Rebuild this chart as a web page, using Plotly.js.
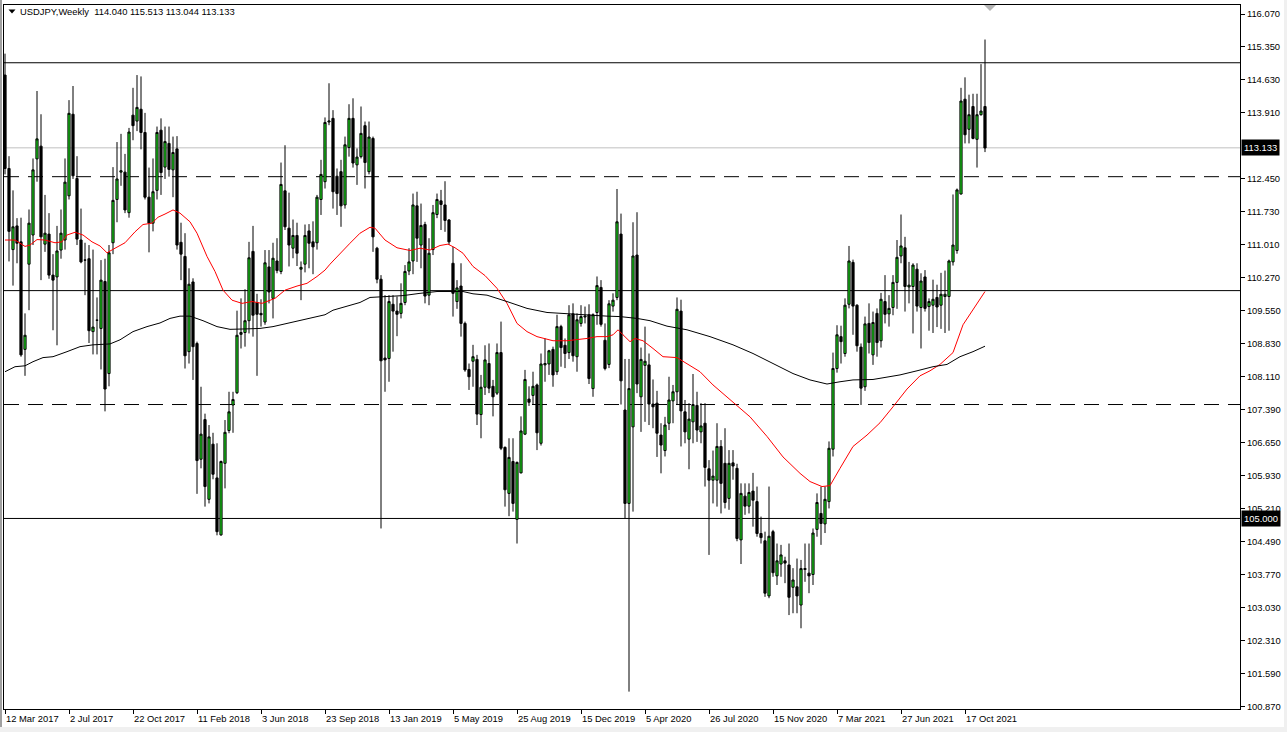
<!DOCTYPE html>
<html>
<head>
<meta charset="utf-8">
<script src="https://cdn.plot.ly/plotly-3.0.1.min.js"></script>
<style>
html,body{margin:0;padding:0;background:#fff;}
#chart{width:1287px;height:732px;}
</style>
</head>
<body>
<div id="chart"></div>
<script>
// ---------- DATA (weekly USDJPY candles, week 0 = 12 Mar 2017) ----------
const symbolTitle = "USDJPY,Weekly";
const lastBar = ["114.040", "115.513", "113.044", "113.133"];

const open = [
114.73,112.68,110.90,111.42,111.07,108.71,110.58,111.22,112.89,113.17,
111.02,111.24,110.34,110.30,110.89,111.11,112.08,113.87,112.46,111.11,
110.67,110.70,109.10,109.35,109.17,110.20,108.18,111.05,112.00,112.60,
112.60,111.71,113.85,113.72,113.98,113.47,112.05,111.48,112.20,113.52,
112.71,113.23,112.65,113.11,111.06,110.75,108.66,110.19,108.84,106.30,
107.17,105.42,106.63,105.89,104.64,106.21,106.93,107.49,107.76,109.04,
109.08,109.34,110.86,109.74,109.50,109.31,110.52,109.83,110.65,110.42,
112.19,111.37,110.93,111.21,110.47,110.58,111.31,111.07,111.05,112.00,
112.39,113.70,113.78,112.51,112.61,111.88,113.14,113.78,112.76,112.94,
113.62,112.61,113.34,110.93,110.25,108.52,108.51,109.70,109.55,109.50,
109.74,110.43,110.65,111.86,111.00,111.45,109.90,110.90,111.67,111.97,
111.88,111.55,110.60,109.76,110.10,109.28,108.27,108.45,108.49,107.28,
107.88,108.40,107.90,107.75,108.64,106.56,105.55,106.25,104.98,106.00,
106.85,107.62,107.70,107.93,106.65,108.37,108.39,108.71,108.22,109.21,
108.80,108.64,109.49,108.55,109.28,109.42,109.47,107.85,109.52,110.07,
108.91,108.38,109.66,109.85,111.24,107.38,105.33,107.01,110.78,107.67,
108.36,108.37,107.51,107.53,106.83,106.49,107.09,107.58,107.78,109.55,
107.34,106.74,107.12,107.48,106.90,107.09,106.09,105.84,105.84,106.58,
106.21,105.44,106.22,106.10,104.53,105.49,105.27,105.60,105.37,104.67,
104.51,103.30,104.71,103.74,104.00,104.07,103.98,103.49,103.50,103.10,
103.88,103.80,103.77,104.76,105.11,104.88,105.37,106.52,108.29,108.99,
108.62,109.70,110.62,109.68,108.76,107.89,109.28,108.59,109.50,108.90,
109.76,109.49,109.63,110.18,110.76,110.94,110.08,110.09,110.47,109.63,
110.30,109.65,109.68,109.85,109.68,109.87,109.87,110.63,110.88,112.12,
114.20,113.54,114.04,113.32,113.86,114.04
];
const high = [
115.20,112.95,112.20,111.59,111.60,109.50,111.78,112.90,114.38,113.87,
112.10,111.70,110.80,111.42,111.78,112.90,114.18,114.49,112.95,111.80,
111.05,111.00,110.90,109.85,110.67,110.70,111.00,112.71,113.26,113.44,
113.00,113.57,114.45,114.73,114.70,113.90,112.70,112.90,113.60,113.78,
113.60,113.60,113.38,113.39,111.49,111.26,110.49,110.27,108.88,107.89,
107.30,107.05,106.88,106.65,106.27,107.16,107.78,107.78,109.56,109.83,
110.03,111.07,111.42,109.93,109.81,110.89,110.89,111.05,111.15,112.81,
113.19,112.15,111.56,111.49,110.64,111.45,111.46,111.52,112.10,112.87,
113.80,114.55,113.96,112.68,112.87,113.38,114.09,114.22,113.12,114.04,
113.71,113.71,113.38,110.96,110.34,109.90,109.90,109.90,109.87,110.16,
110.56,110.93,112.13,112.17,111.91,111.51,111.15,111.88,112.13,112.21,
112.40,111.57,110.96,110.23,110.60,109.32,108.40,108.81,108.59,108.15,
108.80,108.84,108.04,108.84,109.32,106.58,106.76,106.76,106.25,107.24,
108.26,107.90,108.22,107.96,108.62,108.95,108.70,108.77,109.47,109.25,
108.95,109.68,109.72,109.50,109.68,109.65,109.70,109.50,110.31,110.23,
109.28,109.79,109.94,112.23,111.69,108.50,108.50,111.50,111.72,108.75,
109.21,108.62,108.05,107.80,107.09,107.23,108.11,107.93,109.85,109.80,
107.60,107.53,108.17,107.78,107.53,107.53,106.28,106.49,107.09,106.72,
106.98,106.50,106.50,106.20,105.77,105.77,105.77,106.00,105.70,105.04,
104.71,105.70,104.75,104.45,104.42,104.16,104.45,103.91,104.12,104.09,
104.45,104.45,104.78,105.55,105.70,105.70,106.69,108.64,109.24,109.23,
109.83,110.98,110.68,109.70,108.84,109.43,109.72,109.54,109.61,109.95,
110.34,109.90,110.34,111.11,111.67,111.18,110.63,110.60,110.60,110.38,
110.45,109.83,110.24,110.13,110.39,110.44,110.68,112.11,112.24,114.45,
114.68,114.30,114.32,114.32,114.97,115.51
];
const low = [
112.55,110.64,110.11,110.60,108.55,108.13,109.57,111.00,112.39,110.23,
110.85,110.26,109.13,108.80,110.70,110.90,112.00,112.45,111.00,110.60,
109.90,108.85,108.60,108.60,108.27,107.35,107.90,110.80,111.50,112.30,
111.70,111.60,113.30,113.50,113.10,112.00,110.84,111.30,112.00,112.10,
112.45,112.50,112.05,110.90,110.23,108.29,108.40,108.04,105.54,106.10,
105.26,105.33,105.86,104.63,104.62,105.66,106.87,106.88,107.73,108.73,
108.77,109.06,108.99,108.13,109.21,109.25,109.72,109.39,110.38,110.36,
111.33,110.53,110.71,110.54,109.79,110.40,110.49,110.36,110.90,111.66,
112.24,113.63,111.80,111.66,111.40,111.80,112.94,112.70,112.32,112.90,
112.24,112.55,110.85,110.16,104.78,107.78,108.00,108.66,109.00,109.39,
109.68,110.34,110.36,110.63,110.49,109.72,109.68,110.78,111.59,111.33,
111.29,111.00,109.43,109.60,108.99,108.22,107.82,107.89,107.05,106.76,
107.71,107.75,107.24,107.71,106.50,105.26,105.05,105.15,104.45,105.99,
106.83,107.47,107.50,106.50,106.60,108.00,108.15,107.89,108.15,108.33,
108.30,108.50,108.44,108.22,109.21,109.28,107.95,107.67,109.25,109.21,
108.25,108.30,109.54,109.79,107.50,105.00,101.20,105.15,107.75,106.90,
107.12,107.05,106.98,106.35,105.99,106.36,106.94,107.09,107.51,106.58,
106.65,106.08,106.65,106.68,106.65,105.70,104.20,105.33,105.26,105.11,
105.22,105.19,105.85,104.50,104.00,105.08,105.11,104.82,104.60,104.45,
103.28,103.25,103.72,103.54,103.72,103.58,102.88,102.92,102.92,102.59,
103.61,103.36,103.54,104.60,104.42,104.68,105.22,106.36,108.20,108.40,
108.55,109.61,109.03,108.66,107.49,107.80,108.62,108.37,108.55,108.75,
109.28,109.21,109.46,109.60,110.60,109.54,109.72,109.06,109.54,108.73,
109.54,109.12,109.07,109.20,109.16,109.07,109.12,110.55,110.81,112.11,
113.23,113.23,113.32,112.70,113.84,113.04
];
const close = [
112.68,111.30,111.40,111.04,108.59,109.02,111.48,112.65,113.33,111.18,
111.26,110.34,110.23,110.87,111.26,112.38,113.89,112.52,111.13,110.63,
110.67,109.12,109.20,109.35,110.23,107.84,110.83,111.98,112.45,112.63,
111.77,113.48,113.62,114.02,113.47,112.05,111.48,112.17,113.47,112.59,
113.27,112.66,113.03,111.00,110.80,108.57,110.14,108.77,106.27,106.85,
105.70,106.79,105.97,104.71,106.25,106.89,107.34,107.61,109.02,109.08,
109.34,110.72,109.46,109.48,109.47,110.61,109.97,110.71,110.44,112.33,
111.40,111.00,111.21,110.82,110.51,111.21,111.04,110.96,112.05,112.55,
113.69,113.72,112.17,112.13,111.86,113.20,113.78,112.80,112.93,113.45,
112.81,113.37,111.18,110.25,108.46,108.48,109.76,109.55,109.48,109.72,
110.42,110.63,111.88,111.15,111.43,109.88,110.82,111.71,112.00,111.89,
111.54,111.07,109.94,110.06,109.28,108.26,108.11,108.55,107.29,107.88,
108.48,107.86,107.67,108.64,106.54,105.63,106.34,105.33,106.23,106.92,
108.05,107.55,107.90,106.88,108.39,108.40,108.68,108.15,109.21,108.75,
108.62,109.47,108.57,109.36,109.43,109.44,108.07,109.47,110.11,109.26,
108.29,109.71,109.79,111.51,108.02,105.33,107.85,110.76,107.95,108.49,
108.45,107.51,107.45,106.87,106.61,107.05,107.60,107.78,109.59,107.36,
106.90,107.18,107.50,106.94,107.03,106.12,105.84,105.93,106.58,105.77,
105.35,106.21,106.15,104.56,105.55,105.27,105.57,105.40,104.67,104.58,
103.36,104.61,103.81,104.07,104.20,104.02,103.27,103.65,103.30,103.90,
103.90,103.74,104.68,105.35,104.89,105.42,106.54,108.29,109.03,108.88,
109.68,110.65,109.66,108.79,107.86,109.27,108.86,109.30,108.86,109.81,
109.48,109.61,110.18,110.73,110.98,110.09,110.12,110.56,109.66,110.21,
109.61,109.76,109.81,109.64,109.92,109.92,110.65,111.00,112.21,114.16,
113.42,113.86,113.34,113.86,113.94,113.13
];

// moving averages (week index, price)
const maRedWeek = [0,2.5,5,6.25,8,10,12.5,14.25,15.5,17.5,19.5,21.75,23.75,25.5,27.5,30,32.5,34.5,36.75,38.25,40,42,43.75,46.25,48,50.5,52.5,54.5,56.75,59.25,61.75,64.25,67.5,70,73,75.5,78,80,81.25,83.75,86.25,88.75,91.25,92.5,95,98,101.25,103.75,106.25,108.75,110.75,112.5,114.5,117,120,123,125.5,128,130.5,133,137,140.5,143,145.5,148,150.5,152,153.25,154.5,156.25,157.5,159.5,162,164.5,168,170.5,173.75,177,182,186.25,190.5,194.5,198.75,201.25,204.25,206.25,208.75,212,215.5,218.75,222,225.5,228.75,231.25,233.75,237,239.5,242.5,245];
const maRedValue = [111.11,111.11,110.97,111.0,111.12,111.11,111.05,111.07,111.22,111.28,111.22,111.07,110.98,110.83,110.93,111.05,111.29,111.45,111.48,111.61,111.68,111.77,111.7,111.51,111.26,110.75,110.42,110.01,109.79,109.72,109.76,109.72,109.83,110.01,110.1,110.16,110.31,110.45,110.58,110.82,111.04,111.26,111.39,111.37,111.11,110.94,110.88,110.93,110.89,110.99,111.02,110.94,110.82,110.53,110.33,110.05,109.72,109.28,109.1,108.99,108.9,108.9,108.92,108.95,108.99,108.99,109.03,109.14,109.03,108.88,108.95,108.9,108.73,108.55,108.53,108.4,108.22,107.93,107.56,107.23,106.8,106.35,105.99,105.81,105.7,105.72,106.1,106.58,106.83,107.1,107.45,107.84,108.13,108.24,108.38,108.64,109.25,109.64,109.98];
const maBlackWeek = [0,2.5,5,7,9.5,12,15.5,18.75,22,26.25,28.75,32,35.5,38.75,41.25,43.75,46.25,49.5,53,56.25,60.5,63.75,67,70.5,73.75,77,80,82,85.5,88.75,91.25,95.5,99.5,103.75,108,111.25,114.5,117,120.5,125.5,130.5,135.5,140.5,145.5,150.5,153.75,158,161.25,165.5,170.5,176.25,182,187,192,197,201.25,205.5,208.75,212,217,220.5,223.75,228,232,235.5,238.75,242,245];
const maBlackValue = [108.22,108.33,108.35,108.44,108.53,108.55,108.66,108.77,108.81,108.83,108.92,109.1,109.21,109.29,109.39,109.44,109.44,109.34,109.21,109.15,109.16,109.17,109.21,109.28,109.34,109.41,109.47,109.57,109.65,109.74,109.85,109.87,109.89,109.94,109.98,109.98,109.98,109.93,109.9,109.76,109.61,109.52,109.49,109.47,109.44,109.43,109.39,109.34,109.22,109.14,108.99,108.81,108.62,108.4,108.18,108.04,107.95,108.0,108.04,108.05,108.1,108.15,108.24,108.33,108.38,108.55,108.66,108.78];

// horizontal levels drawn on the chart
const solidLevels = [115.0, 110.0, 105.0];
const dashedLevels = [112.5, 107.5];
const bidLevel = 113.133;
const markedLevel = 105.000;

// axis labels
const dateLabelWeeks = [0,16,32,48,64,80,96,112,128,144,160,176,192,208,224,240];
const dateLabels = ["12 Mar 2017","2 Jul 2017","22 Oct 2017","11 Feb 2018","3 Jun 2018","23 Sep 2018","13 Jan 2019","5 May 2019","25 Aug 2019","15 Dec 2019","5 Apr 2020","26 Jul 2020","15 Nov 2020","7 Mar 2021","27 Jun 2021","17 Oct 2021"];
// price scale labels; slot = position on the evenly spaced 22-step scale (slot 4 sits under the bid box)
const priceLabelSlots = [0,1,2,3,5,6,7,8,9,10,11,12,13,14,15,16,17,18,19,20,21];
const priceLabels = ["116.070","115.350","114.630","113.910","112.450","111.730","111.010","110.270","109.550","108.830","108.110","107.390","106.650","105.930","105.210","104.490","103.770","103.030","102.310","101.590","100.870"];

// ---------- CHART ----------
if (!(open.length === high.length && high.length === low.length && low.length === close.length)) {
  throw new Error("length mismatch " + [open.length, high.length, low.length, close.length].join(","));
}
const weeks = open.map((_, i) => i);

const FONT = "'Liberation Sans', Arial, sans-serif";
const FS = 9.4;
const GREEN = "#1ee61e";

// y-axis tick positions: evenly spaced between the top and bottom scale labels
const yTop = 116.07, yBottom = 100.87, ySteps = 21;
const yTickVals = priceLabelSlots.map(k => yTop - k * (yTop - yBottom) / ySteps);

// plot-area pixel geometry helpers (for frame decorations only)
const W = 1287, H = 732, L = 4, R = 47, T = 5, B = 23;
const pw = W - L - R, ph = H - T - B;
const px = p => (p - L) / pw;          // pixel x -> paper x
const py = p => (H - B - p) / ph;      // pixel y -> paper y

const traces = [
  {
    type: "candlestick",
    x: weeks, open: open, high: high, low: low, close: close,
    increasing: {line: {color: "#000000", width: 1}, fillcolor: GREEN},
    decreasing: {line: {color: "#000000", width: 1}, fillcolor: "#000000"},
    whiskerwidth: 0,
    hoverinfo: "skip",
    showlegend: false
  },
  {
    type: "scatter", mode: "lines", x: maRedWeek, y: maRedValue,
    line: {color: "#ff0000", width: 1}, hoverinfo: "skip", showlegend: false
  },
  {
    type: "scatter", mode: "lines", x: maBlackWeek, y: maBlackValue,
    line: {color: "#000000", width: 1}, hoverinfo: "skip", showlegend: false
  }
];

const shapes = [];
solidLevels.forEach(v => shapes.push({type: "line", xref: "paper", x0: 0, x1: 1, yref: "y", y0: v, y1: v,
  line: {color: "#000000", width: 1}, layer: "below"}));
dashedLevels.forEach(v => shapes.push({type: "line", xref: "paper", x0: 0, x1: 1, yref: "y", y0: v, y1: v,
  line: {color: "#000000", width: 1, dash: "15px,9px"}, layer: "below"}));
shapes.push({type: "line", xref: "paper", x0: 0, x1: 1, yref: "y", y0: bidLevel, y1: bidLevel,
  line: {color: "#c0c0c0", width: 1}, layer: "below"});
// title triangle
shapes.push({type: "path", xref: "paper", yref: "paper",
  path: `M ${px(8.5)},${py(9.5)} L ${px(15.5)},${py(9.5)} L ${px(12)},${py(13.5)} Z`,
  fillcolor: "#000000", line: {width: 0}});
// chart-shift marker
shapes.push({type: "path", xref: "paper", yref: "paper",
  path: `M ${px(984)},${py(5)} L ${px(996)},${py(5)} L ${px(990)},${py(11)} Z`,
  fillcolor: "#b4b4b4", line: {width: 0}});
// window frame
shapes.push({type: "rect", xref: "paper", yref: "paper", x0: px(0), x1: px(2), y0: py(0), y1: py(732),
  fillcolor: "#a0a0a0", line: {width: 0}});
shapes.push({type: "rect", xref: "paper", yref: "paper", x0: px(0), x1: px(1287), y0: py(727), y1: py(732),
  fillcolor: "#f0f0f0", line: {width: 0}});
shapes.push({type: "rect", xref: "paper", yref: "paper", x0: px(1284), x1: px(1287), y0: py(0), y1: py(732),
  fillcolor: "#f0f0f0", line: {width: 0}});

const annotations = [];
annotations.push({xref: "paper", yref: "paper", x: px(18), y: py(12), xanchor: "left", yanchor: "middle",
  text: symbolTitle + "&nbsp; " + lastBar.join(" "), showarrow: false,
  font: {family: FONT, size: FS, color: "#000000"}});
dateLabels.forEach((t, i) => annotations.push({xref: "x", yref: "paper", x: dateLabelWeeks[i], y: 0,
  xanchor: "left", yanchor: "top", yshift: -2, xshift: -1, text: t, showarrow: false,
  font: {family: FONT, size: FS, color: "#000000"}}));
[bidLevel, markedLevel].forEach(v => annotations.push({xref: "paper", yref: "y", x: 1, y: v,
  xanchor: "left", yanchor: "middle", xshift: 1, text: v.toFixed(3), showarrow: false,
  bgcolor: "#000000", borderpad: 2, font: {family: FONT, size: FS, color: "#ffffff"}}));

const layout = {
  width: W, height: H,
  margin: {l: L, r: R, t: T, b: B, pad: 0},
  paper_bgcolor: "#ffffff", plot_bgcolor: "#ffffff",
  showlegend: false,
  boxgap: 0.22,
  xaxis: {
    type: "linear", range: [-0.25, 308.75], fixedrange: true,
    showgrid: false, zeroline: false,
    showline: true, mirror: true, linecolor: "#000000", linewidth: 1,
    ticks: "outside", ticklen: 4, tickcolor: "#000000", tickwidth: 1,
    tickvals: dateLabelWeeks, showticklabels: false,
    rangeslider: {visible: false}
  },
  yaxis: {
    side: "right", range: [100.8187, 116.2675], fixedrange: true,
    showgrid: false, zeroline: false,
    showline: true, mirror: true, linecolor: "#000000", linewidth: 1,
    ticks: "outside", ticklen: 4, tickcolor: "#000000", tickwidth: 1,
    tickvals: yTickVals, ticktext: priceLabels,
    tickfont: {family: FONT, size: FS, color: "#000000"}
  },
  shapes: shapes,
  annotations: annotations
};

Plotly.newPlot("chart", traces, layout, {staticPlot: true, displayModeBar: false});
</script>
</body>
</html>
